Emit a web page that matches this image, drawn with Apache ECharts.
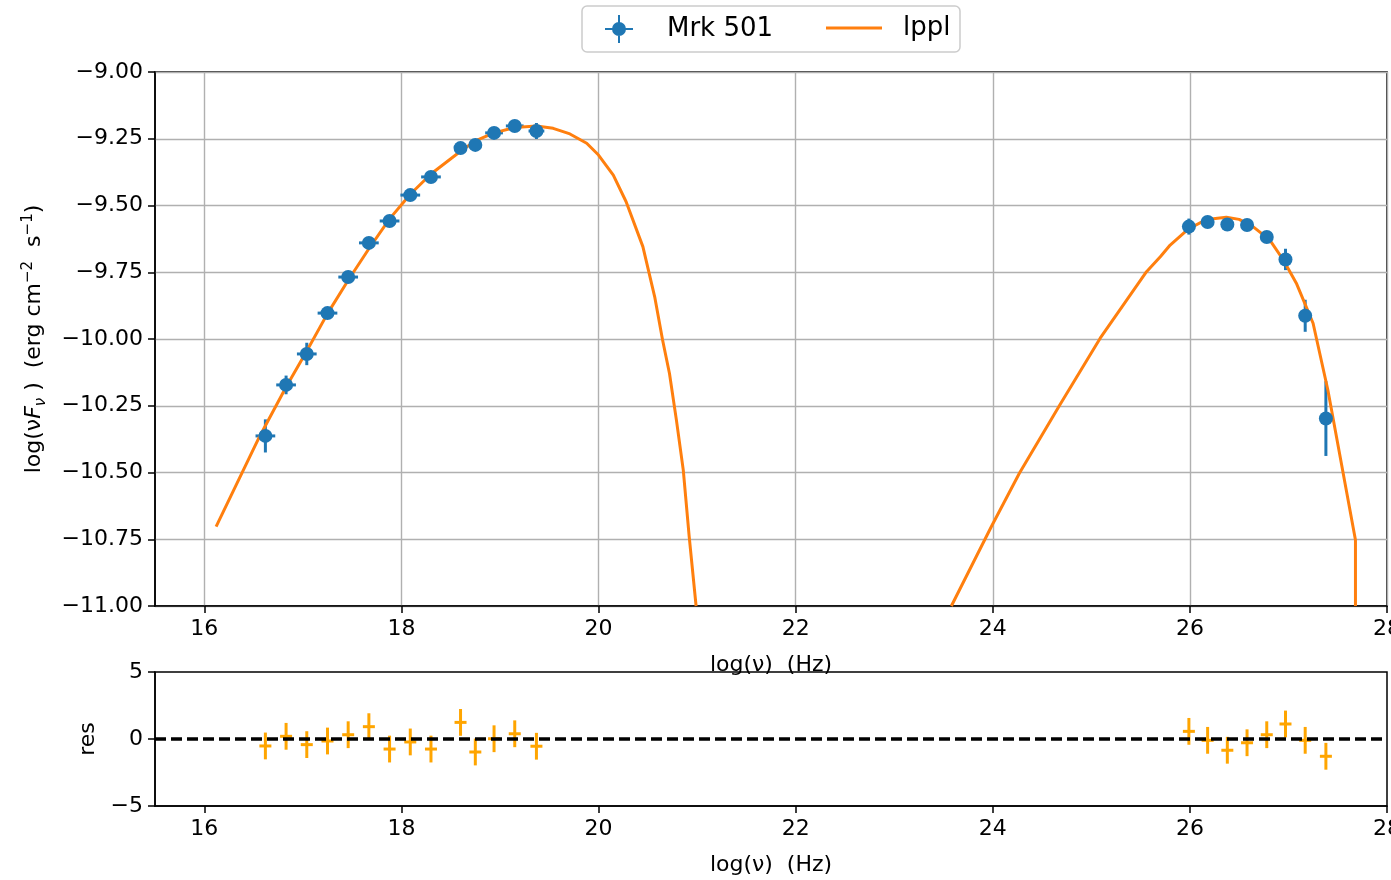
<!DOCTYPE html>
<html>
<head>
<meta charset="utf-8">
<script src="https://cdn.jsdelivr.net/npm/echarts@6/dist/echarts.min.js"></script>
<style>
  html, body { margin: 0; padding: 0; background: #fff; }
  #chart { width: 1391px; height: 880px; }
</style>
</head>
<body>
<div id="chart"></div>
<script>
// Mrk 501 SED: log(nu) in Hz, log(nu F_nu) in erg cm^-2 s^-1
const sedX = [16.62, 16.83, 17.04, 17.25, 17.46, 17.67, 17.88, 18.09, 18.30, 18.60, 18.75, 18.94, 19.15, 19.37,
              25.99, 26.18, 26.38, 26.58, 26.78, 26.97, 27.17, 27.38];
const sedY = [-10.363, -10.172, -10.056, -9.903, -9.768, -9.640, -9.558, -9.461, -9.393, -9.285, -9.273, -9.228, -9.202, -9.221,
              -9.579, -9.562, -9.571, -9.573, -9.618, -9.702, -9.913, -10.298];
const sedErrX = [0.10, 0.10, 0.10, 0.10, 0.10, 0.10, 0.10, 0.10, 0.10, 0.05, 0.05, 0.09, 0.09, 0.08,
                 0, 0, 0, 0, 0, 0, 0, 0];
const sedErrY = [0.062, 0.035, 0.042, 0.02, 0.02, 0.02, 0.02, 0.02, 0.015, 0.01, 0.01, 0.015, 0.02, 0.03,
                 0.03, 0.02, 0.02, 0.02, 0.02, 0.04, 0.06, 0.14];

// residuals (data - model) / error
const resY = [-0.52, 0.20, -0.42, -0.15, 0.32, 0.92, -0.75, -0.22, -0.75, 1.24, -0.97, 0.02, 0.39, -0.54,
              0.57, -0.10, -0.84, -0.28, 0.32, 1.12, -0.10, -1.29];
const resErr = [1, 1, 1, 1, 1, 1, 1, 1, 1, 1, 1, 1, 1, 1, 1, 1, 1, 1, 1, 1, 1, 1];

// log-parabola model curve (synchrotron and IC bumps)
const lpplSyncX = [16.12, 16.56, 16.83, 17.04, 17.25, 17.46, 17.67, 17.88, 18.09, 18.30, 18.60, 18.75, 18.94, 19.15,
                   19.37, 19.54, 19.71, 19.88, 20.00, 20.15, 20.28, 20.45, 20.57, 20.65, 20.72, 20.79, 20.86, 20.92, 20.99];
const lpplSyncY = [-10.703, -10.366, -10.18, -10.045, -9.905, -9.78, -9.662, -9.55, -9.458, -9.382, -9.297, -9.258, -9.228, -9.208,
                   -9.202, -9.211, -9.232, -9.267, -9.311, -9.386, -9.486, -9.654, -9.842, -10.004, -10.129, -10.303, -10.491, -10.74, -11.0];
const lpplICX = [23.58, 23.985, 24.27, 24.68, 25.09, 25.56, 25.70, 25.80, 25.98, 26.17, 26.37, 26.50, 26.64, 26.81,
                 26.95, 27.08, 27.25, 27.40, 27.68, 27.68];
const lpplICY = [-11.0, -10.703, -10.503, -10.247, -9.997, -9.748, -9.692, -9.648, -9.589, -9.552, -9.544, -9.552, -9.579, -9.629,
                 -9.705, -9.791, -9.941, -10.191, -10.753, -11.0];

const xTicks = [16, 18, 20, 22, 24, 26, 28];
const yTicksMain = { min: -11, max: -9, step: 0.25 };
const yTicksRes = { min: -5, max: 5, step: 5 };

const FONT = 'DejaVu Sans';
const FS = 22;
const BLUE = '#1f77b4';
const ORANGE = '#ff7f0e';
const RES_ORANGE = '#ffa500';

const fmtMinus = v => String(v).replace('-', '\u2212');

const sedPoints = sedX.map((x, i) => [x, sedY[i], sedErrX[i], sedErrY[i]]);
const resPoints = sedX.map((x, i) => [x, resY[i], resErr[i]]);
const lpplData = lpplSyncX.map((x, i) => [x, lpplSyncY[i]])
  .concat([[null, null]])
  .concat(lpplICX.map((x, i) => [x, lpplICY[i]]));

function xAxisCfg(gridIndex) {
  return {
    type: 'value', gridIndex,
    min: 15.5, max: 28,
    name: 'log(\u03bd)  (Hz)', nameLocation: 'middle', nameGap: 48,
    nameTextStyle: { fontFamily: FONT, fontSize: FS, color: '#000' },
    axisLine: { show: true, onZero: false, lineStyle: { color: '#000', width: 1.5 } },
    axisTick: { show: true, length: 7, customValues: xTicks, lineStyle: { color: '#000', width: 1.5 } },
    axisLabel: { customValues: xTicks, fontFamily: FONT, fontSize: FS, color: '#000', margin: 12 },
    splitLine: { show: gridIndex === 0, lineStyle: { color: '#b0b0b0', width: 1.4 } }
  };
}

function yAxisCfg(gridIndex, t, name, nameGap, extra) {
  return Object.assign({
    type: 'value', gridIndex,
    min: t.min, max: t.max, interval: t.step,
    name, nameLocation: 'middle', nameGap,
    axisLine: { show: true, lineStyle: { color: '#000', width: 1.5 } },
    axisTick: { show: true, length: 7, lineStyle: { color: '#000', width: 1.5 } },
    splitLine: { show: gridIndex === 0, lineStyle: { color: '#b0b0b0', width: 1.4 } }
  }, extra);
}

function renderSedErr(params, api) {
  const x = api.value(0), y = api.value(1), ex = api.value(2), ey = api.value(3);
  const c = api.coord([x, y]);
  const children = [];
  const style = { stroke: BLUE, lineWidth: 3 };
  if (ey > 0) {
    const a = api.coord([x, y - ey]), b = api.coord([x, y + ey]);
    children.push({ type: 'line', shape: { x1: c[0], y1: a[1], x2: c[0], y2: b[1] }, style });
  }
  if (ex > 0) {
    const a = api.coord([x - ex, y]), b = api.coord([x + ex, y]);
    children.push({ type: 'line', shape: { x1: a[0], y1: c[1], x2: b[0], y2: c[1] }, style });
  }
  return { type: 'group', children };
}

function renderRes(params, api) {
  const x = api.value(0), y = api.value(1), e = api.value(2);
  const c = api.coord([x, y]);
  const a = api.coord([x, y - e]), b = api.coord([x, y + e]);
  const style = { stroke: RES_ORANGE, lineWidth: 3 };
  return {
    type: 'group', children: [
      { type: 'line', shape: { x1: c[0], y1: a[1], x2: c[0], y2: b[1] }, style },
      { type: 'line', shape: { x1: c[0] - 6, y1: c[1], x2: c[0] + 6, y2: c[1] }, style }
    ]
  };
}

const chart = echarts.init(document.getElementById('chart'), null, { renderer: 'canvas' });

const option = {
  backgroundColor: '#fff',
  animation: false,
  textStyle: { fontFamily: FONT },
  grid: [
    { left: 155, top: 72, width: 1232, height: 534, show: true, borderColor: '#000', borderWidth: 1.5,
      backgroundColor: 'transparent', containLabel: false, outerBoundsMode: 'none' },
    { left: 155, top: 672, width: 1232, height: 134, show: true, borderColor: '#000', borderWidth: 1.5,
      backgroundColor: '#fff', containLabel: false, outerBoundsMode: 'none' }
  ],
  graphic: [{
    type: 'rect', z: 0,
    shape: { x: 582, y: 6, width: 378, height: 46, r: 5 },
    style: { fill: '#fff', stroke: '#cccccc', lineWidth: 1.5 }
  }],
  legend: [
    {
      left: 605, top: 15, padding: 0, selectedMode: false,
      itemWidth: 28, itemHeight: 28,
      data: [{
        name: 'Mrk 501',
        icon: 'path://M13,0 H15 V28 H13 Z M0,13 H28 V15 H0 Z M7,14 A7,7 0 1,1 21,14 A7,7 0 1,1 7,14 Z'
      }],
      textStyle: { fontFamily: FONT, fontSize: 26, color: '#000', padding: [2, 0, 0, 29] }
    },
    {
      left: 826, top: 15, padding: 0, selectedMode: false,
      itemWidth: 56, itemHeight: 3,
      data: [{ name: 'lppl', icon: 'rect' }],
      textStyle: { fontFamily: FONT, fontSize: 26, color: '#000', padding: [2, 0, 0, 16] }
    }
  ],
  xAxis: [xAxisCfg(0), xAxisCfg(1)],
  yAxis: [
    yAxisCfg(0, yTicksMain,
      '{a|log(\u03bd}{i|F}{sub|\u03bd}{a| )  (erg cm}{sup|\u22122}{a|  s}{sup|\u22121}{a|)}', 104, {
        nameTextStyle: {
          fontFamily: FONT, fontSize: FS, color: '#000',
          rich: {
            a: { fontFamily: FONT, fontSize: FS, color: '#000', lineHeight: 32, verticalAlign: 'middle' },
            i: { fontFamily: FONT, fontSize: FS, color: '#000', fontStyle: 'italic', lineHeight: 32, verticalAlign: 'middle' },
            sub: { fontFamily: FONT, fontSize: 15, color: '#000', fontStyle: 'italic', lineHeight: 32, verticalAlign: 'bottom', padding: [0, 0, 2, 0] },
            sup: { fontFamily: FONT, fontSize: 15, color: '#000', lineHeight: 32, verticalAlign: 'top', padding: [2, 0, 0, 0] }
          }
        },
        axisLabel: { fontFamily: FONT, fontSize: FS, color: '#000', margin: 12, formatter: v => fmtMinus(v.toFixed(2)) }
      }),
    yAxisCfg(1, yTicksRes, 'res', 56, {
      nameTextStyle: { fontFamily: FONT, fontSize: FS, color: '#000' },
      axisLabel: { fontFamily: FONT, fontSize: FS, color: '#000', margin: 12, formatter: v => fmtMinus(v) }
    })
  ],
  series: [
    {
      name: 'Mrk 501 err', type: 'custom', xAxisIndex: 0, yAxisIndex: 0,
      renderItem: renderSedErr, data: sedPoints, encode: { x: 0, y: 1 }, z: 3, silent: true
    },
    {
      name: 'lppl', type: 'line', xAxisIndex: 0, yAxisIndex: 0,
      data: lpplData, showSymbol: false, symbol: 'none', connectNulls: false, clip: true,
      lineStyle: { color: ORANGE, width: 3 }, itemStyle: { color: ORANGE }, z: 4, silent: true
    },
    {
      name: 'Mrk 501', type: 'scatter', xAxisIndex: 0, yAxisIndex: 0,
      data: sedPoints.map(p => [p[0], p[1]]), symbol: 'circle', symbolSize: 14,
      itemStyle: { color: BLUE, opacity: 1 }, z: 5, silent: true
    },
    {
      name: 'residuals', type: 'custom', xAxisIndex: 1, yAxisIndex: 1,
      renderItem: renderRes, data: resPoints, encode: { x: 0, y: 1 }, z: 4, silent: true,
      markLine: {
        silent: true, symbol: 'none', label: { show: false },
        lineStyle: { color: '#000', width: 3.5, type: [11, 5] },
        data: [{ yAxis: 0 }]
      }
    }
  ]
};

chart.setOption(option);
</script>
</body>
</html>
